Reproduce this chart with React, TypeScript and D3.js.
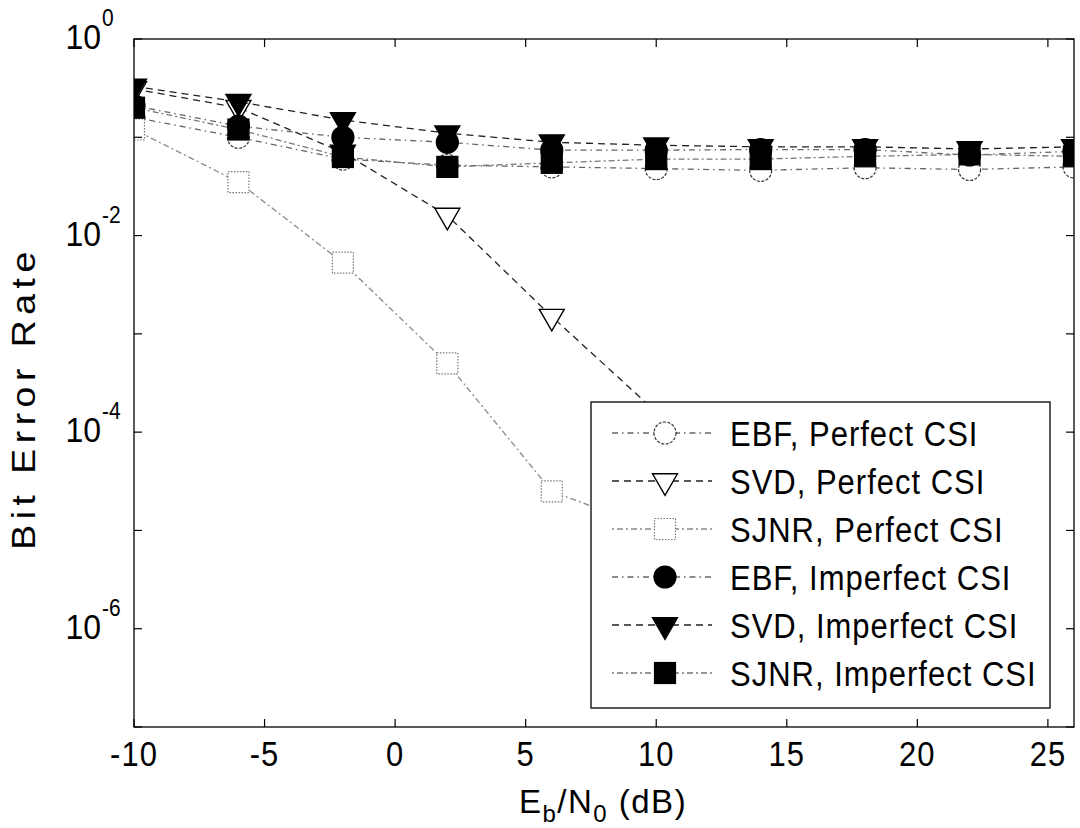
import React from "react";
import * as d3 from "d3";

const xValues = [-10, -6, -2, 2, 6, 10, 14, 18, 22, 26];
const ebfPerfect = [0.16, 0.1, 0.06, 0.052, 0.05, 0.048, 0.046, 0.049, 0.047, 0.05];
const svdPerfect = [0.31, 0.2, 0.07, 0.016, 0.0015, 0.00016];
const sjnrPerfect = [0.12, 0.035, 0.0053, 0.0005, 0.000025, 0.00001];
const ebfImperfect = [0.21, 0.13, 0.1, 0.089, 0.074, 0.074, 0.075, 0.075, 0.066, 0.072];
const svdImperfect = [0.33, 0.23, 0.15, 0.11, 0.089, 0.083, 0.08, 0.08, 0.076, 0.08];
const sjnrImperfect = [0.2, 0.12, 0.063, 0.05, 0.055, 0.06, 0.06, 0.064, 0.067, 0.064];

const seriesNames = [
  "EBF, Perfect CSI",
  "SVD, Perfect CSI",
  "SJNR, Perfect CSI",
  "EBF, Imperfect CSI",
  "SVD, Imperfect CSI",
  "SJNR, Imperfect CSI",
];
const seriesValues = [ebfPerfect, svdPerfect, sjnrPerfect, ebfImperfect, svdImperfect, sjnrImperfect];
const seriesMarkers = ["circle", "triangle", "square", "circle", "triangle", "square"];
const seriesFilled = [false, false, false, true, true, true];
const seriesDash = ["6,4,1.5,4", "7,5", "2,3,6,3", "6,4,1.5,4", "7,5", "2,3,6,3"];
const seriesLineColor = ["#666", "#222", "#888", "#666", "#222", "#777"];

const xTicks = [-10, -5, 0, 5, 10, 15, 20, 25];
const yTickExps = [0, -1, -2, -3, -4, -5, -6, -7];
const yLabelExps = [0, -2, -4, -6];

const FONT = "'Liberation Sans', Arial, Helvetica, sans-serif";

function Marker({ kind, cx, cy, filled }: { kind: string; cx: number; cy: number; filled: boolean }) {
  if (kind === "circle") {
    return (
      <circle
        cx={cx}
        cy={cy}
        r={11}
        fill={filled ? "#000" : "#fff"}
        stroke={filled ? "#000" : "#333"}
        strokeWidth={1.2}
        strokeDasharray={filled ? undefined : "3,1.5"}
      />
    );
  }
  if (kind === "square") {
    return (
      <rect
        x={cx - 10.5}
        y={cy - 10.5}
        width={21}
        height={21}
        fill={filled ? "#000" : "#fff"}
        stroke={filled ? "#000" : "#777"}
        strokeWidth={1.2}
        strokeDasharray={filled ? undefined : "1.5,1.5"}
      />
    );
  }
  const r = 14.4;
  const pts = [
    [cx - r * 0.866, cy - r / 2],
    [cx + r * 0.866, cy - r / 2],
    [cx, cy + r],
  ];
  return (
    <polygon
      points={pts.map((p) => p.join(",")).join(" ")}
      fill={filled ? "#000" : "#fff"}
      stroke="#000"
      strokeWidth={1.4}
    />
  );
}

export default function App() {
  const W = 1080;
  const H = 828;
  const left = 134;
  const right = 1074;
  const top = 39;
  const bottom = 727;
  const x = d3.scaleLinear().domain([-10, 26]).range([left, right]);
  const y = d3.scaleLog().domain([1e-7, 1]).range([bottom, top]);

  const line = d3
    .line<[number, number]>()
    .x((d) => x(d[0]))
    .y((d) => y(d[1]));

  const legendLeft = 591;
  const legendTop = 402;
  const legendRight = 1050;
  const legendBottom = 708;
  const rowY = d3.scalePoint<number>().domain(d3.range(6)).range([433, 673]);

  return (
    <svg
      width={W}
      height={H}
      style={{ position: "absolute", left: 0, top: 0, background: "#fff" }}
      fontFamily={FONT}
    >
      <rect x={0} y={0} width={W} height={H} fill="#fff" />
      <defs>
        <clipPath id="plotClip">
          <rect x={left} y={top} width={right - left} height={bottom - top} />
        </clipPath>
      </defs>

      {/* series */}
      <g clipPath="url(#plotClip)">
        {seriesValues.map((vals, si) => {
          const pts: [number, number][] = vals.map((v, i) => [xValues[i], v]);
          return (
            <g key={si}>
              <path
                d={line(pts) || ""}
                fill="none"
                stroke={seriesLineColor[si]}
                strokeWidth={1.3}
                strokeDasharray={seriesDash[si]}
              />
              {pts.map((p, i) => (
                <Marker key={i} kind={seriesMarkers[si]} cx={x(p[0])} cy={y(p[1])} filled={seriesFilled[si]} />
              ))}
            </g>
          );
        })}
      </g>

      {/* axes box */}
      <rect x={left} y={top} width={right - left} height={bottom - top} fill="none" stroke="#000" strokeWidth={1.3} />

      {/* x ticks */}
      {xTicks.map((t) => (
        <g key={"xt" + t}>
          <line x1={x(t)} x2={x(t)} y1={bottom} y2={bottom - 8} stroke="#000" strokeWidth={1.2} />
          <line x1={x(t)} x2={x(t)} y1={top} y2={top + 8} stroke="#000" strokeWidth={1.2} />
          <text
            transform={`translate(${x(t)},${bottom + 39}) scale(1,1.12)`}
            textAnchor="middle"
            fontSize={31}
            letterSpacing={1}
            fill="#000"
          >
            {t}
          </text>
        </g>
      ))}

      {/* y ticks */}
      {yTickExps.map((e) => (
        <g key={"yt" + e}>
          <line x1={left} x2={left + 8} y1={y(Math.pow(10, e))} y2={y(Math.pow(10, e))} stroke="#000" strokeWidth={1.2} />
          <line x1={right} x2={right - 8} y1={y(Math.pow(10, e))} y2={y(Math.pow(10, e))} stroke="#000" strokeWidth={1.2} />
        </g>
      ))}
      {yLabelExps.map((e) => {
        const ty = y(Math.pow(10, e));
        return (
          <g key={"yl" + e}>
            <text transform={`translate(101,${ty + 10}) scale(1,1.12)`} textAnchor="end" fontSize={32} fill="#000">
              10
            </text>
            <text transform={`translate(102,${ty - 13}) scale(1,1.12)`} textAnchor="start" fontSize={21} fill="#000">
              {e === 0 ? "0" : "-" + Math.abs(e)}
            </text>
          </g>
        );
      })}

      {/* axis labels */}
      <text x={603} y={813} textAnchor="middle" fontSize={33} letterSpacing={1.5} fill="#000">
        E
        <tspan fontSize={24} dy={9}>
          b
        </tspan>
        <tspan dy={-9}>/N</tspan>
        <tspan fontSize={24} dy={9}>
          0
        </tspan>
        <tspan dy={-9}> (dB)</tspan>
      </text>
      <text
        transform="translate(35,398) rotate(-90) scale(1.1,1)"
        textAnchor="middle"
        fontSize={34}
        letterSpacing={5}
        fill="#000"
      >
        Bit Error Rate
      </text>

      {/* legend */}
      <rect
        x={legendLeft}
        y={legendTop}
        width={legendRight - legendLeft}
        height={legendBottom - legendTop}
        fill="#fff"
        stroke="#000"
        strokeWidth={1.3}
      />
      {seriesNames.map((name, i) => {
        const cy = rowY(i) as number;
        return (
          <g key={"lg" + i}>
            <line
              x1={612}
              x2={712}
              y1={cy}
              y2={cy}
              stroke={seriesLineColor[i]}
              strokeWidth={1.3}
              strokeDasharray={seriesDash[i]}
            />
            <Marker kind={seriesMarkers[i]} cx={665} cy={cy} filled={seriesFilled[i]} />
            <text
              transform={`translate(730,${cy + 12.5}) scale(1,1.15)`}
              fontSize={31}
              letterSpacing={1}
              fill="#000"
            >
              {name}
            </text>
          </g>
        );
      })}
    </svg>
  );
}
